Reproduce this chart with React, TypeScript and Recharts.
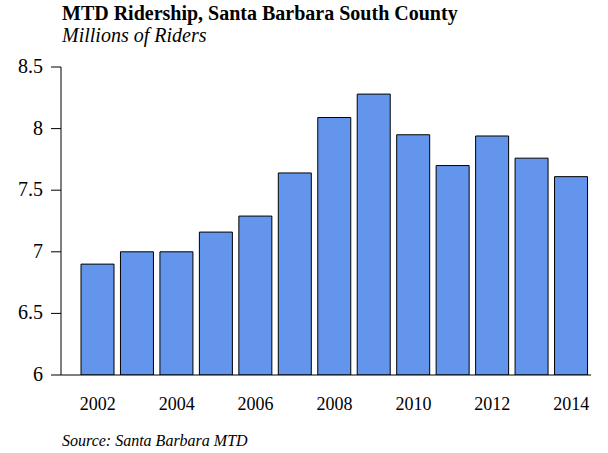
import React from 'react';
import { BarChart, Bar, XAxis, YAxis } from 'recharts';

// MTD ridership, millions of riders per year
const years = ['2002', '2003', '2004', '2005', '2006', '2007', '2008', '2009', '2010', '2011', '2012', '2013', '2014'];
const riders = [6.9, 7.0, 7.0, 7.16, 7.29, 7.64, 8.09, 8.28, 7.95, 7.7, 7.94, 7.76, 7.61];
const yTicks = [6, 6.5, 7, 7.5, 8, 8.5];

const serif = '"Liberation Serif", "Times New Roman", serif';

const XTick = ({ x, y, payload }: any) => (
  <text x={x} y={y} dy={13} textAnchor="middle" fill="#000" fontSize={18} style={{ fontFamily: serif }}>
    {payload.value}
  </text>
);

const YTick = ({ x, y, payload }: any) => (
  <text x={x} y={y} dy={6} textAnchor="end" fill="#000" fontSize={20} style={{ fontFamily: serif }}>
    {payload.value}
  </text>
);

const App: React.FC = () => {
  const data = years.map((year, i) => ({ year, riders: riders[i] }));

  return (
    <div style={{ position: 'absolute', left: 0, top: 0, width: 608, height: 453, background: '#fff', fontFamily: serif }}>
      <div style={{ position: 'absolute', left: 62, top: 2, fontSize: 20, fontWeight: 'bold', color: '#000', whiteSpace: 'nowrap' }}>
        MTD Ridership, Santa Barbara South County
      </div>
      <div style={{ position: 'absolute', left: 62, top: 24, fontSize: 20, fontStyle: 'italic', color: '#000', whiteSpace: 'nowrap' }}>
        Millions of Riders
      </div>

      <BarChart
        width={608}
        height={453}
        data={data}
        margin={{ top: 67, right: 17, left: 0, bottom: 48 }}
        style={{ position: 'absolute', left: 0, top: 0, fontFamily: serif }}
      >
        <XAxis
          dataKey="year"
          interval={1}
          tickLine={false}
          tickSize={0}
          tickMargin={22}
          height={30}
          padding={{ left: 17, right: 0 }}
          axisLine={{ stroke: '#000', strokeWidth: 1 }}
          tick={<XTick />}
        />
        <YAxis
          type="number"
          domain={[6, 8.5]}
          ticks={yTicks}
          width={61}
          tickSize={10}
          tickMargin={8}
          axisLine={{ stroke: '#000', strokeWidth: 1 }}
          tickLine={{ stroke: '#000', strokeWidth: 1 }}
          tick={<YTick />}
          allowDataOverflow
        />
        <Bar dataKey="riders" fill="#6495ED" stroke="#000" strokeWidth={1} barSize={33} isAnimationActive={false} />
      </BarChart>

      <div style={{ position: 'absolute', left: 62, top: 432, fontSize: 16, fontStyle: 'italic', color: '#000', whiteSpace: 'nowrap' }}>
        Source: Santa Barbara MTD
      </div>
    </div>
  );
};

export default App;
